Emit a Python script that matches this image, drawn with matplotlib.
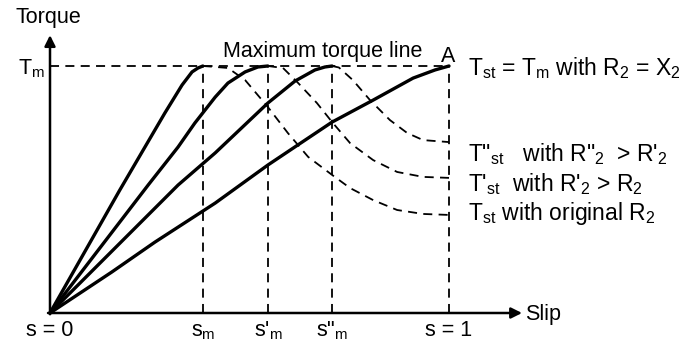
import matplotlib
matplotlib.use("Agg")
import matplotlib.pyplot as plt

plt.rcParams['font.family'] = ['Liberation Sans', 'DejaVu Sans']
plt.rcParams['mathtext.fontset'] = 'custom'
plt.rcParams['mathtext.rm'] = 'Liberation Sans'
plt.rcParams['mathtext.it'] = 'Liberation Sans'
plt.rcParams['mathtext.bf'] = 'Liberation Sans:bold'

# slip values of the peaks (s_m, s'_m, s''_m, 1)
s_peaks = [0.383, 0.546, 0.707, 1.0]
peak_labels = ['s$_m$', "s'$_m$", 's"$_m$', 's = 1']

# solid parts (rise to max torque)
c1_s = [0, 0.175, 0.238, 0.288, 0.331, 0.356, 0.371, 0.383]
c1_t = [0, 0.498, 0.672, 0.810, 0.923, 0.976, 0.992, 1.0]
c2_s = [0, 0.246, 0.321, 0.363, 0.414, 0.446, 0.489, 0.521, 0.546]
c2_t = [0, 0.518, 0.672, 0.769, 0.874, 0.931, 0.976, 0.996, 1.0]
c3_s = [0, 0.321, 0.414, 0.546, 0.614, 0.664, 0.689, 0.707]
c3_t = [0, 0.518, 0.648, 0.850, 0.939, 0.984, 0.996, 1.0]
c4_s = [0, 0.155, 0.263, 0.414, 0.546, 0.632, 0.707, 0.810, 0.910, 0.965, 1.0]
c4_t = [0, 0.166, 0.287, 0.445, 0.599, 0.692, 0.773, 0.862, 0.951, 0.984, 1.0]

# dashed parts (beyond max torque up to s = 1)
d1_s = [0.383, 0.401, 0.446, 0.489, 0.546, 0.596, 0.647, 0.707, 0.752, 0.810, 0.870, 0.935, 1.0]
d1_t = [1.0, 0.998, 0.992, 0.943, 0.834, 0.729, 0.632, 0.559, 0.506, 0.457, 0.417, 0.401, 0.397]
d2_s = [0.546, 0.584, 0.622, 0.669, 0.707, 0.752, 0.810, 0.870, 0.935, 1.0]
d2_t = [1.0, 0.992, 0.931, 0.850, 0.773, 0.688, 0.619, 0.571, 0.551, 0.547]
d3_s = [0.707, 0.724, 0.759, 0.802, 0.852, 0.895, 0.935, 1.0]
d3_t = [1.0, 0.994, 0.943, 0.862, 0.781, 0.729, 0.700, 0.692]

right_labels = ['T$_{st}$ = T$_m$ with R$_2$ = X$_2$',
                'T"$_{st}$   with R"$_2$  > R\'$_2$',
                "T'$_{st}$  with R'$_2$ > R$_2$",
                'T$_{st}$ with original R$_2$']

fig = plt.figure(figsize=(6.97, 3.41), dpi=100)
ax = fig.add_axes([0, 0, 1, 1])
# pixel -> data: s = (x-50)/399, T = (313-y)/247
ax.set_xlim(-50 / 399, 647 / 399)
ax.set_ylim(-28 / 247, 313 / 247)
ax.axis('off')

dash = (0, (5, 3.5))
for s in s_peaks:
    ax.plot([s, s], [0, 1], color='k', lw=1.3, linestyle=dash)
ax.plot([0, 1], [1, 1], color='k', lw=1.3, linestyle=dash)

for xs, ys in [(d1_s, d1_t), (d2_s, d2_t), (d3_s, d3_t)]:
    ax.plot(xs, ys, color='k', lw=1.3, linestyle=dash)
for xs, ys in [(c1_s, c1_t), (c2_s, c2_t), (c3_s, c3_t), (c4_s, c4_t)]:
    ax.plot(xs, ys, color='k', lw=2.4, solid_capstyle='round')

# axes with arrows
arr = dict(arrowstyle='-|>', color='k', lw=1.8, mutation_scale=16, shrinkA=0, shrinkB=0)
ax.annotate('', xy=(0, 1.125), xytext=(0, -0.005), arrowprops=arr)
ax.annotate('', xy=(1.183, 0), xytext=(-0.005, 0), arrowprops=arr)

fs = 15.5
ax.text(-0.0877, 1.174, 'Torque', fontsize=fs, ha='left', va='baseline')
ax.text(-0.012, 0.964, 'T$_m$', fontsize=fs, ha='right', va='baseline')
ax.text(0.4336, 1.036, 'Maximum torque line', fontsize=fs, ha='left', va='baseline')
ax.text(0.997, 1.016, 'A', fontsize=fs, ha='center', va='baseline')
ax.text(1.19, -0.028, 'Slip', fontsize=fs, ha='left', va='baseline')

for lab, y in zip(right_labels, [0.964, 0.615, 0.494, 0.377]):
    ax.text(1.048, y, lab, fontsize=16.5, ha='left', va='baseline')

ax.text(0, -0.093, 's = 0', fontsize=fs, ha='center', va='baseline')
for s, lab in zip(s_peaks, peak_labels):
    ax.text(s, -0.093, lab, fontsize=fs, ha='center', va='baseline')

fig.savefig('out.png', dpi=100)
